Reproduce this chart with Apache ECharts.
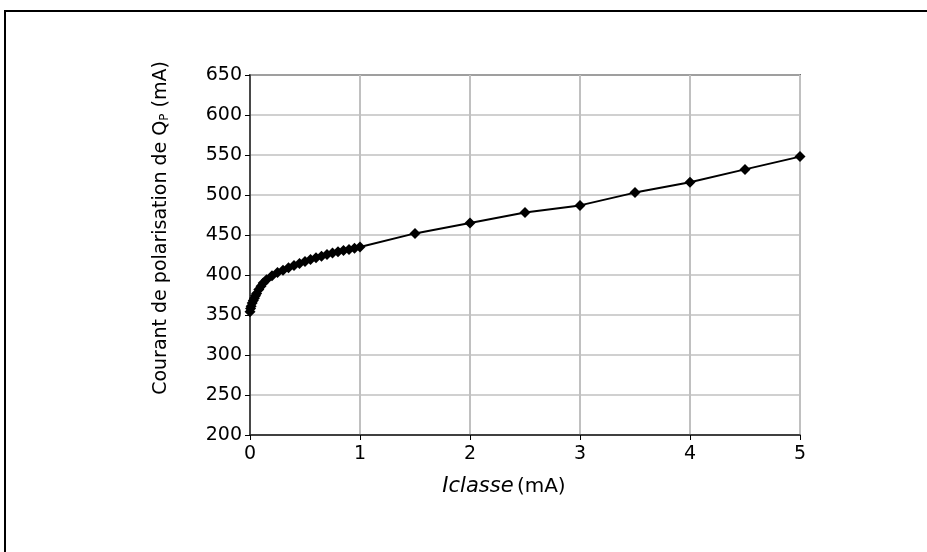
<!DOCTYPE html>
<html>
<head>
<meta charset="utf-8">
<script src="https://cdn.jsdelivr.net/npm/echarts@6/dist/echarts.min.js"></script>
<style>html,body{margin:0;padding:0;background:#fff}#c{width:927px;height:552px}</style>
</head>
<body>
<div id="c"></div>
<script>
var xValues = [0, 0.005, 0.01, 0.02, 0.03, 0.04, 0.05, 0.06, 0.08, 0.1, 0.12, 0.15, 0.2, 0.25, 0.3, 0.35, 0.4, 0.45, 0.5, 0.55, 0.6, 0.65, 0.7, 0.75, 0.8, 0.85, 0.9, 0.95, 1, 1.5, 2, 2.5, 3, 3.5, 4, 4.5, 5];
var yValues = [354, 358, 361, 365, 368, 371, 374, 377, 382, 386, 390, 394, 399, 403, 406, 409, 412, 414.5, 417, 419.5, 421.5, 423.5, 425.5, 427.5, 429, 430.5, 432, 433.5, 435, 452, 465, 478, 487, 503, 516, 532, 548];
var yTicks = [200, 250, 300, 350, 400, 450, 500, 550, 600, 650];
var xTicks = [0, 1, 2, 3, 4, 5];

var data = xValues.map(function (x, i) { return [x, yValues[i]]; });
var FONT = 'DejaVu Sans';
var chart = echarts.init(document.getElementById('c'), null, {renderer: 'canvas'});
chart.setOption({
  animation: false,
  backgroundColor: '#fff',
  graphic: [{
    type: 'rect', z: -1,
    shape: {x: 5, y: 11, width: 940, height: 560},
    style: {fill: 'none', stroke: '#000', lineWidth: 2}
  }],
  grid: {left: 250, right: 127, top: 75, bottom: 117, show: true, borderColor: '#000', borderWidth: 1.5, backgroundColor: 'transparent'},
  xAxis: {
    type: 'value', min: xTicks[0], max: xTicks[xTicks.length - 1], interval: 1,
    name: '{i|Iclasse} {n|(mA)}', nameLocation: 'middle', nameGap: 41,
    nameTextStyle: {padding: [0, 42, 0, 0], rich: {i: {fontFamily: FONT, fontSize: 21, fontStyle: 'italic', color: '#000'}, n: {fontFamily: FONT, fontSize: 20, color: '#000'}}},
    axisLine: {lineStyle: {color: '#222', width: 1.5}},
    axisTick: {show: true, length: 5, lineStyle: {color: '#000', width: 1}},
    axisLabel: {fontFamily: FONT, fontSize: 19, color: '#000', margin: 10},
    splitLine: {show: true, lineStyle: {color: '#c0c0c0', width: 2}}
  },
  yAxis: {
    type: 'value', min: yTicks[0], max: yTicks[yTicks.length - 1], interval: 50,
    name: '{n|Courant de polarisation de Q}{s|P}{n| (mA)}', nameLocation: 'middle', nameGap: 79, nameRotate: 90,
    nameTextStyle: {padding: [0, 0, 0, 54], rich: {n: {fontFamily: FONT, fontSize: 19, color: '#000'}, s: {fontFamily: FONT, fontSize: 12, color: '#000', verticalAlign: 'bottom', padding: [8, 0, 0, 0]}}},
    axisLine: {show: true, lineStyle: {color: '#222', width: 1.5}},
    axisTick: {show: true, length: 5, lineStyle: {color: '#000', width: 1}},
    axisLabel: {fontFamily: FONT, fontSize: 19, color: '#000', margin: 8},
    splitLine: {show: true, lineStyle: {color: '#c0c0c0', width: 1.5}}
  },
  series: [{
    type: 'line', data: data,
    lineStyle: {color: '#000', width: 2},
    itemStyle: {color: '#000'},
    symbol: 'diamond', symbolSize: 11,
    clip: false
  }]
});
</script>
</body>
</html>
